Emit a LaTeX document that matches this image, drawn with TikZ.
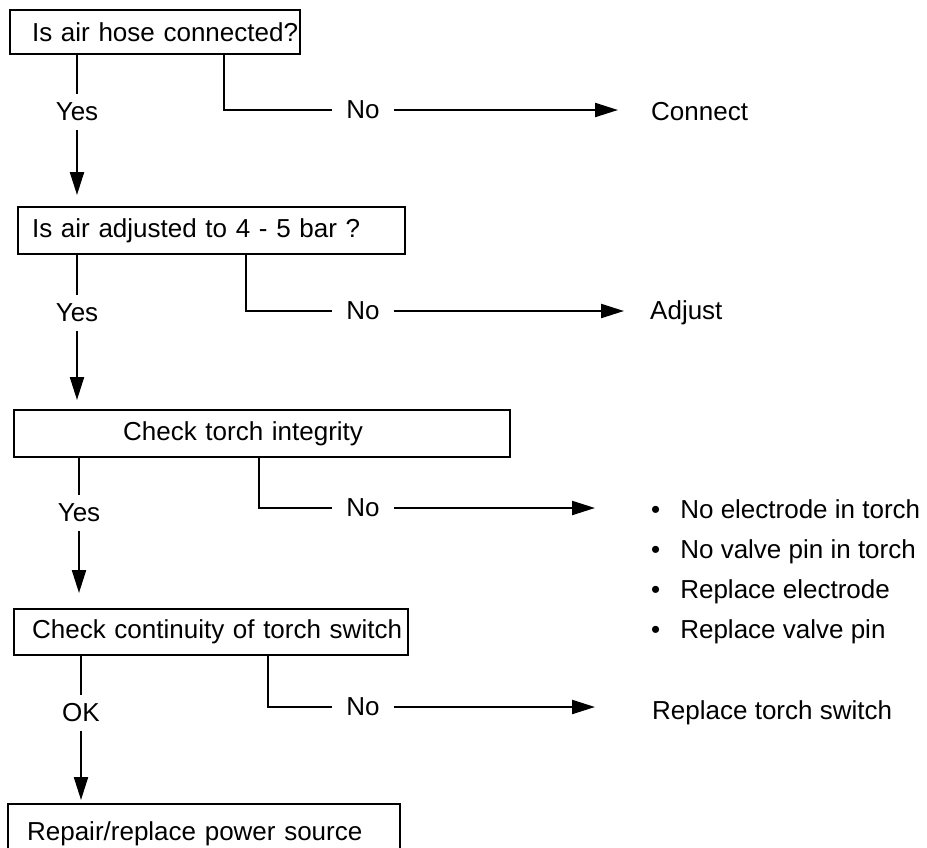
\documentclass[tikz,border=0pt]{standalone}
\usepackage{fontspec}
\setmainfont{Liberation Sans}
\usetikzlibrary{positioning}
\usetikzlibrary{arrows.meta}
\tikzset {
  % question boxes, text set from the left edge
  box/.style = {draw, line width=2.2pt, inner xsep=0pt, inner ysep=0pt, anchor=north west, align=left},
  % Yes / No / OK on the lines
  ans/.style = {inner xsep=14pt, inner ysep=9pt},
  % what to do on the right
  outcome/.style = {anchor=west, inner sep=0pt, align=left},
  flow/.style = {line width=2.2pt},
  arr/.style = {line width=2.2pt, -{Triangle[length=23pt, width=14pt]}},
}

\begin{document}
\begin{tikzpicture}[x=1pt, y=-1pt, font=\fontsize{26}{40}\selectfont]
      \clip (0,0) rectangle (927,847);

      \node[box, text width=290pt, minimum height=44pt] (q1) at (9,9) {\hspace*{22pt}Is air hose connected?};
      \node[box, text width=387pt, minimum height=47pt] (q2) at (17,206) {\hspace*{14pt}Is air adjusted to 4 - 5 bar ?};
      \node[box, text width=496pt, minimum height=47pt] (q3) at (13,409) {\hspace*{109pt}Check torch integrity};
      \node[box, text width=394pt, minimum height=46pt] (q4) at (13,608) {\hspace*{18pt}Check continuity of torch switch};
      \node[box, text width=392pt, minimum height=60pt] (q5) at (7,803) {\hspace*{19pt}Repair/replace power source};

      \node[ans] (yes1) at (77,112) {Yes};
      \node[ans] (yes2) at (77,313) {Yes};
      \node[ans] (yes3) at (79,513) {Yes};
      \node[ans] (ok4) at (81,713) {OK};

      \node[ans] (no1) at (363,110) {No};
      \node[ans] (no2) at (363,311) {No};
      \node[ans] (no3) at (363,508) {No};
      \node[ans] (no4) at (363,707) {No};

      \node[outcome] (connect) at (651,112) {Connect};
      \node[outcome] (adjust) at (650,313) {Adjust};
      \node[outcome] (torchlist) at (651,572) {•\hspace{20pt}No electrode in torch\\
        •\hspace{20pt}No valve pin in torch\\
        •\hspace{20pt}Replace electrode\\
        •\hspace{20pt}Replace valve pin};
      \node[outcome] (switch) at (652,713) {Replace torch switch};

      \coordinate (k1) at (224,53);
      \coordinate (k2) at (246,253);
      \coordinate (k3) at (259,456);
      \coordinate (k4) at (268,654);

      % yes path
      \draw[flow] (yes1 |- q1.south) -- (yes1);
      \draw[arr, shorten >=11pt] (yes1) -- (yes1 |- q2.north);
      \draw[flow] (yes2 |- q2.south) -- (yes2);
      \draw[arr, shorten >=9pt] (yes2) -- (yes2 |- q3.north);
      \draw[flow] (yes3 |- q3.south) -- (yes3);
      \draw[arr, shorten >=15pt] (yes3) -- (yes3 |- q4.north);
      \draw[flow] (ok4 |- q4.south) -- (ok4);
      \draw[arr, shorten >=3pt] (ok4) -- (ok4 |- q5.north);

      % no path
      \draw[flow] (k1) |- (no1);
      \draw[arr, shorten >=33pt] (no1) -- (no1 -| connect.west);
      \draw[flow] (k2) |- (no2);
      \draw[arr, shorten >=26pt] (no2) -- (no2 -| adjust.west);
      \draw[flow] (k3) |- (no3);
      \draw[arr, shorten >=56pt] (no3) -- (no3 -| torchlist.west);
      \draw[flow] (k4) |- (no4);
      \draw[arr, shorten >=57pt] (no4) -- (no4 -| switch.west);
    \end{tikzpicture}
\end{document}
